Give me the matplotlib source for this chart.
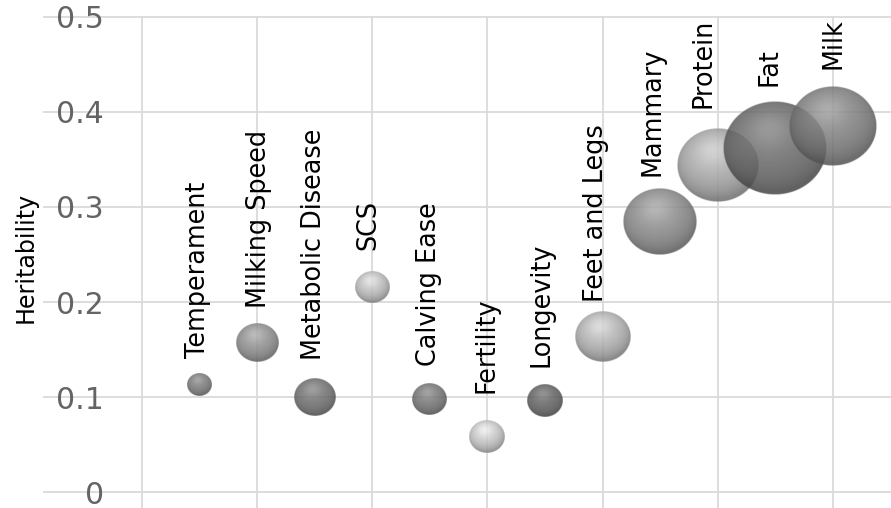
import numpy as np
import matplotlib
matplotlib.use("Agg")
import matplotlib.pyplot as plt

# heritability of dairy traits, bubble = relative importance
traits = ["Temperament", "Milking Speed", "Metabolic Disease", "SCS", "Calving Ease",
          "Fertility", "Longevity", "Feet and Legs", "Mammary", "Protein", "Fat", "Milk"]
heritability = [0.113, 0.157, 0.100, 0.216, 0.098, 0.058, 0.096, 0.163, 0.285, 0.344, 0.362, 0.385]
bubble_size = [25, 43, 42, 35, 35, 36, 36, 56, 74, 82, 104, 88]
y_ticks = [0, 0.1, 0.2, 0.3, 0.4, 0.5]
y_tick_labels = ["0", "0.1", "0.2", "0.3", "0.4", "0.5"]

# styling per bubble (gray tone) and label nudges in pixels (dx, gap above bubble)
tones = [0.46, 0.54, 0.42, 0.72, 0.44, 0.76, 0.37, 0.68, 0.52, 0.64, 0.40, 0.48]
label_dx = [-2, 2, -1, -4, -1, -1, -4, -7, -8, -14, -6, 1]
label_gap = [15, 16, 18, 21, 17, 28, 18, 10, 12, 20, 15, 18]
aspect = 0.9

x = np.arange(1, len(traits) + 1)

W, H = 891, 508
fig = plt.figure(figsize=(W / 100, H / 100), dpi=100)
ax = fig.add_axes([43 / W, 0, 1 - 43 / W, 1 - 16 / H])

for s in ax.spines.values():
    s.set_visible(False)
ax.set_xticks(np.arange(0, 13, 2))
ax.set_xticklabels([])
ax.set_yticks(y_ticks)
ax.set_yticklabels(y_tick_labels, fontsize=21.5, color="#646464")
ax.tick_params(axis="both", length=0)
ax.tick_params(axis="y", pad=-44)
ax.grid(True, color="#dadada", linewidth=1.3)
ax.set_axisbelow(True)

ax.set_xlim(-1.73, 13.017)
ax.set_ylim(-0.01684, 0.50105)
ax.set_autoscale_on(False)

# pixel scale of the data axes
p0 = ax.transData.transform((0, 0))
p1 = ax.transData.transform((1, 1))
px_x = p1[0] - p0[0]
px_y = p1[1] - p0[1]


def sphere(tone, n=200, alpha=0.85):
    v, u = np.mgrid[1:-1:n * 1j, -1:1:n * 1j]
    r2 = u ** 2 + v ** 2
    r = np.sqrt(r2)
    z = np.sqrt(np.clip(1 - r2, 0, 1))
    L = np.array([-0.12, 0.4, 0.9])
    L = L / np.linalg.norm(L)
    d = np.clip(u * L[0] + v * L[1] + z * L[2], 0, 1)
    g = tone * (0.68 + 0.42 * d) + 0.09 * d ** 12
    g = np.clip(g, 0, 1)
    a = alpha * np.clip((1 - r) * n / 3, 0, 1)
    img = np.zeros((n, n, 4))
    img[..., 0] = g
    img[..., 1] = g
    img[..., 2] = g
    img[..., 3] = a
    return img


for i in range(len(traits)):
    w = bubble_size[i] / px_x
    h = bubble_size[i] * aspect / px_y
    ax.imshow(sphere(tones[i]), extent=(x[i] - w / 2, x[i] + w / 2,
                                         heritability[i] - h / 2, heritability[i] + h / 2),
              origin="upper", aspect="auto", interpolation="bilinear", zorder=2)
    ax.annotate(traits[i], (x[i], heritability[i]),
                xytext=(label_dx[i], bubble_size[i] * aspect / 2 + label_gap[i]),
                textcoords="offset pixels", rotation=90, ha="center", va="bottom",
                fontsize=18.4, color="black", zorder=3)

fig.text(26 / W, 1 - 257 / H, "Heritability", rotation=90, ha="center", va="center",
         fontsize=17.1, color="black")

fig.savefig("out.png", dpi=100)
